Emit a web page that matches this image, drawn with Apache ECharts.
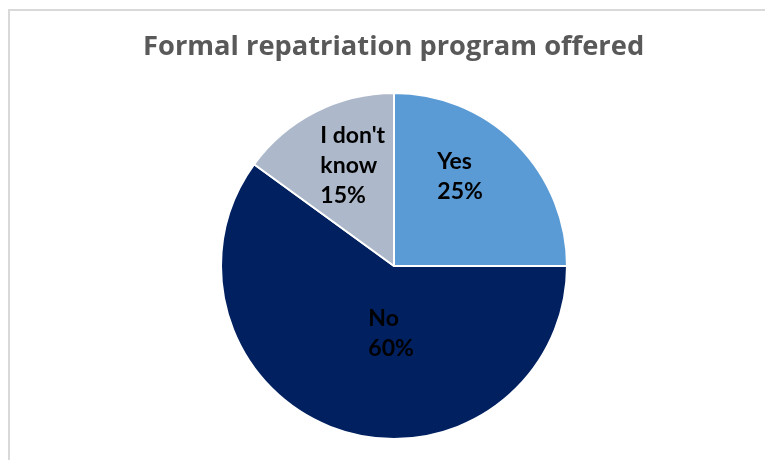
<!DOCTYPE html>
<html>
<head>
<meta charset="utf-8">
<script src="https://cdn.jsdelivr.net/npm/echarts@6/dist/echarts.min.js"></script>
<style>
html,body{margin:0;padding:0;background:#fff;}
#chart{width:765px;height:460px;}
</style>
</head>
<body>
<div id="chart"></div>
<script>
const titleText = "Formal repatriation program offered";
const categories = ["Yes", "No", "I don't\nknow"];
const values = [25, 60, 15];
const colors = ["#5B9BD5", "#002060", "#ADB9CA"];
// label nudges relative to ECharts' default inside position
const labelNudge = [[-20, -26.5], [2, -17.5], [-33, -21]];

const chart = echarts.init(document.getElementById('chart'), null, {renderer: 'canvas'});
chart.setOption({
  backgroundColor: '#ffffff',
  animation: false,
  title: {
    text: titleText,
    left: 138,
    top: 29,
    textStyle: {fontFamily: 'Open Sans', fontWeight: 'bold', fontSize: 27.3, color: '#595959'}
  },
  graphic: [
    {type: 'line', shape: {x1: 9, y1: 10, x2: 9, y2: 460}, style: {stroke: '#d9d9d9', lineWidth: 2}},
    {type: 'line', shape: {x1: 8, y1: 10, x2: 765, y2: 10}, style: {stroke: '#d9d9d9', lineWidth: 2}}
  ],
  series: [{
    type: 'pie',
    center: [394, 266],
    radius: [0, 173],
    startAngle: 90,
    clockwise: true,
    data: categories.map((c, i) => ({name: c, value: values[i], itemStyle: {color: colors[i]}})),
    itemStyle: {borderColor: '#ffffff', borderWidth: 2},
    label: {
      show: true,
      position: 'inside',
      formatter: p => p.name + '\n' + p.value + '%',
      fontFamily: 'Lato',
      fontWeight: 'bold',
      fontSize: 23,
      lineHeight: 30,
      color: '#000000'
    },
    labelLayout: p => ({dx: labelNudge[p.dataIndex][0], dy: labelNudge[p.dataIndex][1], align: 'left'}),
    labelLine: {show: false},
    emphasis: {disabled: true}
  }]
});
</script>
</body>
</html>
